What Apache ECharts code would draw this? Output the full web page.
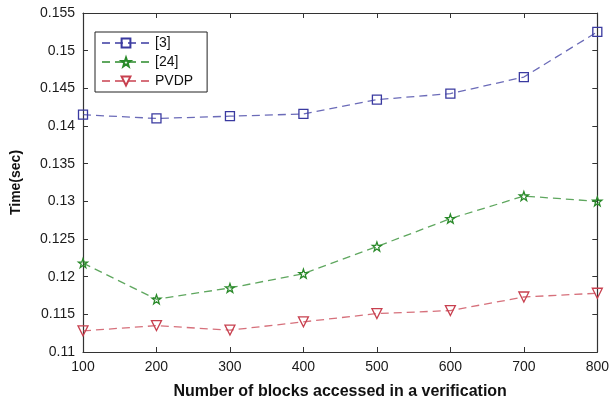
<!DOCTYPE html>
<html>
<head>
<meta charset="utf-8">
<script src="https://cdn.jsdelivr.net/npm/echarts@6/dist/echarts.min.js"></script>
<style>
  html, body { margin: 0; padding: 0; background: #fff; }
  #chart { width: 612px; height: 405px; }
</style>
</head>
<body>
<div id="chart"></div>
<script>
const blocks = [100, 200, 300, 400, 500, 600, 700, 800]
const ref3 = [0.1415, 0.1410, 0.1413, 0.1416, 0.1435, 0.1443, 0.1465, 0.1525]
const ref24 = [0.1218, 0.1170, 0.1185, 0.1204, 0.1240, 0.1277, 0.1307, 0.1300]
const pvdp = [0.1128, 0.1135, 0.1129, 0.1140, 0.1151, 0.1155, 0.1173, 0.1178]

const font = 'Liberation Sans, Arial, sans-serif'
const pair = arr => blocks.map((b, i) => [b, arr[i]])

const makeSeries = (name, data, color, symbol, size) => ({
  name: name,
  type: 'line',
  data: pair(data),
  symbol: symbol,
  symbolSize: size,
  itemStyle: { color: 'transparent', borderColor: color, borderWidth: 1.3 },
  lineStyle: { color: color, width: 1.3, type: [8, 5], opacity: 0.75 },
  emphasis: { disabled: true },
  animation: false
})

const axisCommon = {
  axisLine: { show: true, onZero: false, lineStyle: { color: '#333', width: 1.2 } },
  axisTick: { show: true, inside: true, length: 5, lineStyle: { color: '#333' } },
  splitLine: { show: false }
}

const labelStyle = { fontFamily: font, fontSize: 14, color: '#1a1a1a', margin: 8 }

const chart = echarts.init(document.getElementById('chart'))
chart.setOption({
  backgroundColor: '#fff',
  textStyle: { fontFamily: font },
  grid: { left: 83, right: 13, top: 13, bottom: 51 },
  legend: {
    left: 95,
    top: 32,
    orient: 'vertical',
    itemGap: 5,
    itemWidth: 48,
    itemHeight: 11,
    padding: [4, 14, 4, 6],
    borderColor: '#222',
    borderWidth: 1,
    backgroundColor: '#fff',
    itemStyle: { color: 'transparent' },
    textStyle: { fontFamily: font, fontSize: 14, color: '#111' },
    data: ['[3]', '[24]', 'PVDP']
  },
  xAxis: [
    Object.assign({
      type: 'value', min: 100, max: 800, interval: 100, position: 'bottom',
      name: 'Number of blocks accessed in a verification',
      nameLocation: 'middle', nameGap: 32,
      nameTextStyle: { fontFamily: font, fontSize: 16, fontWeight: 'bold', color: '#111' },
      axisLabel: labelStyle
    }, axisCommon),
    Object.assign({
      type: 'value', min: 100, max: 800, interval: 100, position: 'top',
      axisLabel: { show: false }
    }, axisCommon)
  ],
  yAxis: [
    Object.assign({
      type: 'value', min: 0.11, max: 0.155, interval: 0.005, position: 'left',
      name: 'Time(sec)', nameLocation: 'middle', nameGap: 60,
      nameTextStyle: { fontFamily: font, fontSize: 14, fontWeight: 'bold', color: '#111' },
      axisLabel: labelStyle
    }, axisCommon),
    Object.assign({
      type: 'value', min: 0.11, max: 0.155, interval: 0.005, position: 'right',
      axisLabel: { show: false }
    }, axisCommon)
  ],
  series: [
    makeSeries('[3]', ref3, '#3a3aa0', 'rect', 9),
    makeSeries('[24]', ref24, '#2a8a2a', 'path://M0,-10L2.4,-3.1L9.5,-3.1L3.8,1.2L5.9,8.1L0,4L-5.9,8.1L-3.8,1.2L-9.5,-3.1L-2.4,-3.1Z', 9),
    makeSeries('PVDP', pvdp, '#c8404f', 'path://M-10,-8L10,-8L0,9Z', 10)
  ]
})
</script>
</body>
</html>
